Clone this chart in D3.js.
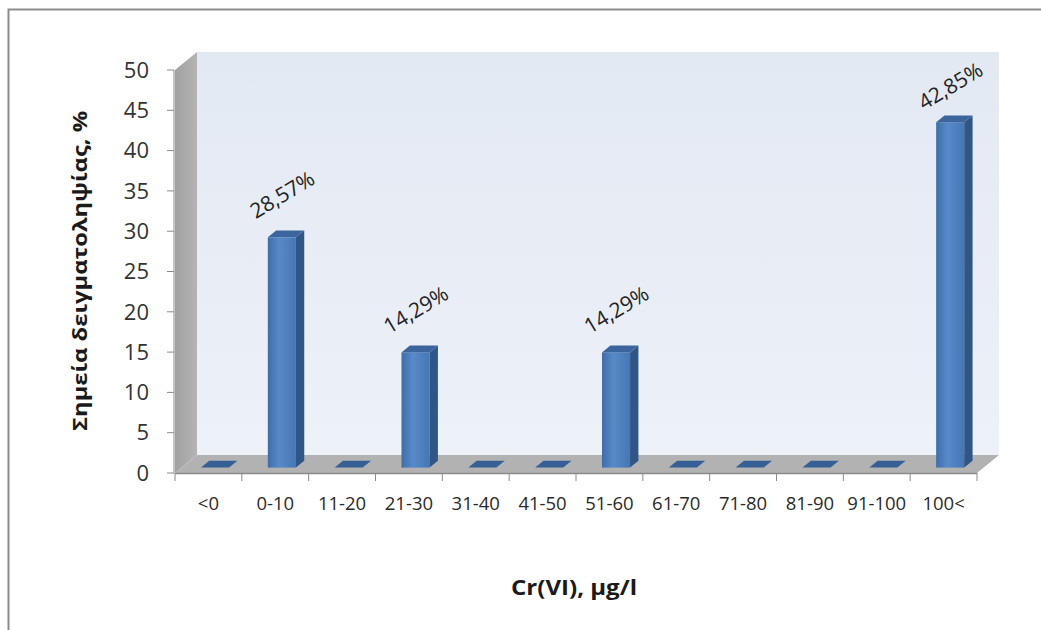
<!DOCTYPE html>
<html>
<head>
<meta charset="utf-8">
<script src="https://cdn.jsdelivr.net/npm/d3@7"></script>
<style>
  body { margin: 0; background: #fff; }
  svg { display: block; }
  text { font-family: "Open Sans", "DejaVu Sans", sans-serif; }
</style>
</head>
<body>
<svg width="1041" height="630"></svg>
<script>
var categories = ['<0', '0-10', '11-20', '21-30', '31-40', '41-50', '51-60', '61-70', '71-80', '81-90', '91-100', '100<'];
var values = [0, 28.57, 0, 14.29, 0, 0, 14.29, 0, 0, 0, 0, 42.85];
var labels = ['', '28,57%', '', '14,29%', '', '', '14,29%', '', '', '', '', '42,85%'];
var yTicks = [0, 5, 10, 15, 20, 25, 30, 35, 40, 45, 50];

var svg = d3.select('svg');

// front plane & depth offset of the 3d box
var x0 = 175, x1 = 977;
var DX = 22, DY = 18;
var d1 = 0.3, d2 = 0.68;

var x = d3.scaleBand().domain(categories).range([x0, x1]);
var y = d3.scaleLinear().domain([0, 50]).range([473, 70]);

var defs = svg.append('defs');
var wallGrad = defs.append('linearGradient').attr('id', 'wall')
    .attr('x1', 0).attr('y1', 0).attr('x2', 0).attr('y2', 1);
wallGrad.append('stop').attr('offset', '0%').attr('stop-color', '#e3e9f3');
wallGrad.append('stop').attr('offset', '100%').attr('stop-color', '#edf1f8');

var sideGrad = defs.append('linearGradient').attr('id', 'side')
    .attr('x1', 0).attr('y1', 0).attr('x2', 1).attr('y2', 0);
sideGrad.append('stop').attr('offset', '0%').attr('stop-color', '#a0a0a0');
sideGrad.append('stop').attr('offset', '100%').attr('stop-color', '#b4b4b4');

var barGrad = defs.append('linearGradient').attr('id', 'barFront')
    .attr('x1', 0).attr('y1', 0).attr('x2', 1).attr('y2', 0);
barGrad.append('stop').attr('offset', '0%').attr('stop-color', '#3e6ea9');
barGrad.append('stop').attr('offset', '40%').attr('stop-color', '#5889c8');
barGrad.append('stop').attr('offset', '100%').attr('stop-color', '#4677b5');

// outer frame
svg.append('path')
    .attr('d', 'M8.5,630 L8.5,9.5 L1041,9.5')
    .attr('fill', 'none')
    .attr('stroke', '#8c8c8c')
    .attr('stroke-width', 2);

var pts = a => a.map(p => p.join(',')).join(' ');

// back wall
svg.append('polygon')
    .attr('points', pts([[x0 + DX, y(50) - DY], [x1 + DX, y(50) - DY], [x1 + DX, y(0) - DY], [x0 + DX, y(0) - DY]]))
    .attr('fill', 'url(#wall)');

// side wall
svg.append('polygon')
    .attr('points', pts([[x0, y(50)], [x0 + DX, y(50) - DY], [x0 + DX, y(0) - DY], [x0, y(0)]]))
    .attr('fill', 'url(#side)');

// floor
svg.append('polygon')
    .attr('points', pts([[x0, y(0)], [x1, y(0)], [x1 + DX, y(0) - DY], [x0 + DX, y(0) - DY]]))
    .attr('fill', '#b2b2b2');
svg.append('line')
    .attr('x1', x0).attr('x2', x1).attr('y1', y(0) + 0.5).attr('y2', y(0) + 0.5)
    .attr('stroke', '#8a8a8a').attr('stroke-width', 1.5);

// y axis
var yAxis = svg.append('g');
yAxis.append('line')
    .attr('x1', x0 - 1).attr('x2', x0 - 1).attr('y1', y(50)).attr('y2', y(0))
    .attr('stroke', '#8a8a8a');
yAxis.selectAll('.tk').data(yTicks).enter().append('line')
    .attr('x1', x0 - 8).attr('x2', x0 - 1)
    .attr('y1', d => y(d)).attr('y2', d => y(d))
    .attr('stroke', '#8a8a8a');
yAxis.selectAll('text').data(yTicks).enter().append('text')
    .attr('x', 149).attr('y', d => y(d))
    .attr('dy', '0.35em')
    .attr('text-anchor', 'end')
    .attr('font-size', 22)
    .attr('fill', '#333')
    .text(d => d);

// x axis ticks and labels
var xAxis = svg.append('g');
var bounds = categories.map(c => x(c)).concat([x1]);
xAxis.selectAll('line').data(bounds).enter().append('line')
    .attr('x1', d => d).attr('x2', d => d)
    .attr('y1', y(0)).attr('y2', y(0) + 8)
    .attr('stroke', '#8a8a8a');
xAxis.selectAll('text').data(categories).enter().append('text')
    .attr('x', d => x(d) + x.bandwidth() / 2)
    .attr('y', 510)
    .attr('text-anchor', 'middle')
    .attr('font-size', 18.5)
    .attr('fill', '#2a2a2a')
    .attr('font-family', '"Liberation Sans", Arial, sans-serif')
    .text(d => d);

// bars
var w = x.bandwidth() * 0.42;
var ddx = (d2 - d1) * DX, ddy = (d2 - d1) * DY;
var bars = svg.append('g').selectAll('g').data(categories).enter().append('g');
bars.each(function (c, i) {
    var g = d3.select(this);
    var v = values[i];
    var fx = x(c) + x.bandwidth() / 2 - w / 2 + d1 * DX;
    var top = y(v) - d1 * DY;
    var bot = y(0) - d1 * DY;
    if (v > 0) {
        g.append('rect')
            .attr('x', fx).attr('y', top)
            .attr('width', w).attr('height', bot - top)
            .attr('fill', 'url(#barFront)');
        g.append('polygon')
            .attr('points', pts([[fx + w, top], [fx + w + ddx, top - ddy], [fx + w + ddx, bot - ddy], [fx + w, bot]]))
            .attr('fill', '#2f5686');
    }
    g.append('polygon')
        .attr('points', pts([[fx, top], [fx + w, top], [fx + w + ddx, top - ddy], [fx + ddx, top - ddy]]))
        .attr('fill', v > 0 ? '#3b659c' : '#365f95');
});

// value labels
svg.append('g').selectAll('text').data(categories).enter().append('text')
    .filter((c, i) => labels[i] !== '')
    .attr('transform', function (c) {
        var i = categories.indexOf(c);
        var cx = x(c) + x.bandwidth() / 2 + 7;
        var cy = Math.max(y(values[i]) - 48, 86);
        return 'translate(' + cx + ',' + cy + ') rotate(-31)';
    })
    .attr('text-anchor', 'middle')
    .attr('dy', '0.35em')
    .attr('font-size', 21)
    .attr('fill', '#222')
    .text(c => labels[categories.indexOf(c)]);

// axis titles
svg.append('text')
    .attr('transform', 'translate(80,271) rotate(-90)')
    .attr('text-anchor', 'middle')
    .attr('dy', '0.35em')
    .attr('font-size', 20)
    .attr('font-weight', 'bold')
    .attr('fill', '#1a1a1a')
    .attr('textLength', 320)
    .attr('lengthAdjust', 'spacingAndGlyphs')
    .text('Σημεία δειγματοληψίας, %');

svg.append('text')
    .attr('x', 574).attr('y', 588)
    .attr('text-anchor', 'middle')
    .attr('dy', '0.35em')
    .attr('font-size', 21)
    .attr('font-weight', 'bold')
    .attr('fill', '#1a1a1a')
    .attr('textLength', 126)
    .attr('lengthAdjust', 'spacingAndGlyphs')
    .text('Cr(VI), μg/l');
</script>
</body>
</html>
